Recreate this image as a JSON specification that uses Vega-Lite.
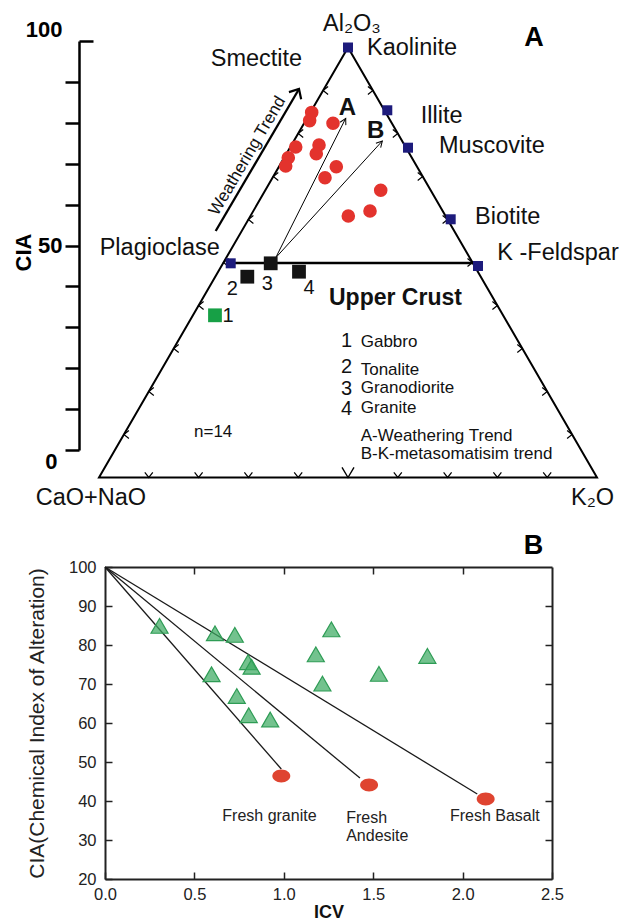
{
  "$schema": "https://vega.github.io/schema/vega-lite/v6.json",
  "background": "white",
  "padding": {"left": 12, "top": 11, "right": 0, "bottom": 0},
  "bounds": "flush",
  "spacing": 117,
  "config": {
    "view": {"stroke": null},
    "font": "Liberation Sans",
    "axis": {"labelFont": "Liberation Sans", "titleFont": "Liberation Sans", "grid": false}
  },
  "datasets": {
    "edge": [{"x": 0, "y": 0, "o": 0}, {"x": 50, "y": 100, "o": 1}, {"x": 100, "y": 0, "o": 2}],
    "join": [{"x": 26.45, "y": 49.9, "o": 0}, {"x": 75.3, "y": 49.9, "o": 1}],
    "trends": [
      {"trend": "A", "x": 35.48, "y": 51.1, "o": 0}, {"trend": "A", "x": 49.54, "y": 83.53, "o": 1},
      {"trend": "B", "x": 35.48, "y": 51.1, "o": 0}, {"trend": "B", "x": 56.89, "y": 78.26, "o": 1}
    ],
    "weather": [{"x": 23.43, "y": 57.33, "o": 0}, {"x": 40.16, "y": 90.35, "o": 1}],
    "eticks": [
      {"edge": "bottom", "x": 10, "y": 0}, {"edge": "bottom", "x": 20, "y": 0}, {"edge": "bottom", "x": 30, "y": 0},
      {"edge": "bottom", "x": 40, "y": 0}, {"edge": "bottom", "x": 50, "y": 0}, {"edge": "bottom", "x": 60, "y": 0},
      {"edge": "bottom", "x": 70, "y": 0}, {"edge": "bottom", "x": 80, "y": 0}, {"edge": "bottom", "x": 90, "y": 0},
      {"edge": "left", "x": 5, "y": 10}, {"edge": "left", "x": 10, "y": 20}, {"edge": "left", "x": 15, "y": 30},
      {"edge": "left", "x": 20, "y": 40}, {"edge": "left", "x": 25, "y": 50}, {"edge": "left", "x": 30, "y": 60},
      {"edge": "left", "x": 35, "y": 70}, {"edge": "left", "x": 40, "y": 80}, {"edge": "left", "x": 45, "y": 90},
      {"edge": "right", "x": 95, "y": 10}, {"edge": "right", "x": 90, "y": 20}, {"edge": "right", "x": 85, "y": 30},
      {"edge": "right", "x": 80, "y": 40}, {"edge": "right", "x": 75, "y": 50}, {"edge": "right", "x": 70, "y": 60},
      {"edge": "right", "x": 65, "y": 70}, {"edge": "right", "x": 60, "y": 80}, {"edge": "right", "x": 55, "y": 90}
    ],
    "minerals": [
      {"mineral": "Kaolinite", "x": 50, "y": 100},
      {"mineral": "Illite", "x": 57.89, "y": 85.4},
      {"mineral": "Muscovite", "x": 62.05, "y": 76.7},
      {"mineral": "Biotite", "x": 70.62, "y": 60.05},
      {"mineral": "K-Feldspar", "x": 76.1, "y": 49.19},
      {"mineral": "Plagioclase", "x": 26.45, "y": 49.81}
    ],
    "rocks": [
      {"rock": "Gabbro", "x": 23.29, "y": 37.72},
      {"rock": "Tonalite", "x": 29.78, "y": 46.7},
      {"rock": "Granodiorite", "x": 34.48, "y": 49.81},
      {"rock": "Granite", "x": 40.16, "y": 47.86}
    ],
    "samples": [
      {"x": 42.71, "y": 84.9}, {"x": 42.3, "y": 83.0}, {"x": 46.99, "y": 82.37}, {"x": 39.5, "y": 76.86},
      {"x": 44.18, "y": 77.33}, {"x": 43.63, "y": 75.3}, {"x": 38.01, "y": 74.37}, {"x": 37.49, "y": 72.44},
      {"x": 47.65, "y": 72.28}, {"x": 45.38, "y": 69.72}, {"x": 56.57, "y": 66.79}, {"x": 50.06, "y": 60.81},
      {"x": 54.42, "y": 61.98}
    ],
    "labels": [
      {"kind": "end", "text": "Al₂O₃", "x": 44.98, "y": 105.47},
      {"kind": "end", "text": "Kaolinite", "x": 53.82, "y": 99.95},
      {"kind": "end", "text": "Smectite", "x": 22.43, "y": 97.26},
      {"kind": "end", "text": "Illite", "x": 64.6, "y": 84.07},
      {"kind": "end", "text": "Muscovite", "x": 68.27, "y": 77.09},
      {"kind": "end", "text": "Biotite", "x": 75.5, "y": 60.58},
      {"kind": "end", "text": "K -Feldspar", "x": 79.98, "y": 52.28},
      {"kind": "end", "text": "Plagioclase", "x": 0.14, "y": 53.44},
      {"kind": "end", "text": "CaO+NaO", "x": -12.71, "y": -4.7},
      {"kind": "end", "text": "K₂O", "x": 94.78, "y": -4.77},
      {"kind": "crust", "text": "Upper Crust", "x": 46.18, "y": 41.81},
      {"kind": "num", "text": "1", "x": 48.6, "y": 31.74},
      {"kind": "num", "text": "2", "x": 48.6, "y": 25.77},
      {"kind": "num", "text": "3", "x": 48.6, "y": 20.51},
      {"kind": "num", "text": "4", "x": 48.6, "y": 15.86},
      {"kind": "name", "text": "Gabbro", "x": 52.55, "y": 31.51},
      {"kind": "name", "text": "Tonalite", "x": 52.55, "y": 24.93},
      {"kind": "name", "text": "Granodiorite", "x": 52.55, "y": 20.74},
      {"kind": "name", "text": "Granite", "x": 52.55, "y": 16.23},
      {"kind": "note", "text": "n=14", "x": 19.08, "y": 10.65},
      {"kind": "note", "text": "A-Weathering Trend", "x": 52.55, "y": 9.65},
      {"kind": "note", "text": "B-K-metasomatisim trend", "x": 52.55, "y": 5.4},
      {"kind": "rocknum", "text": "2", "x": 26.77, "y": 43.77},
      {"kind": "rocknum", "text": "3", "x": 33.8, "y": 45.07},
      {"kind": "rocknum", "text": "4", "x": 42.17, "y": 44.14},
      {"kind": "rocknum", "text": "1", "x": 25.9, "y": 37.56},
      {"kind": "trendlab", "text": "A", "x": 49.86, "y": 86.0},
      {"kind": "trendlab", "text": "B", "x": 55.56, "y": 80.6},
      {"kind": "panel", "text": "A", "x": 87.35, "y": 102.3},
      {"kind": "wt", "text": "Weathering Trend", "x": 29.78, "y": 74.77}
    ],
    "mix": [
      {"rock": "granite", "icv": 0, "cia": 100, "o": 0}, {"rock": "granite", "icv": 0.986, "cia": 48.2, "o": 1},
      {"rock": "andesite", "icv": 0, "cia": 100, "o": 0}, {"rock": "andesite", "icv": 1.426, "cia": 45.87, "o": 1},
      {"rock": "basalt", "icv": 0, "cia": 100, "o": 0}, {"rock": "basalt", "icv": 2.082, "cia": 41.8, "o": 1}
    ],
    "fresh": [
      {"rock": "Fresh granite", "icv": 0.986, "cia": 46.4},
      {"rock": "Fresh Andesite", "icv": 1.477, "cia": 44.1},
      {"rock": "Fresh Basalt", "icv": 2.129, "cia": 40.5}
    ],
    "sediments": [
      {"icv": 0.305, "cia": 84.9}, {"icv": 0.615, "cia": 83.0}, {"icv": 0.726, "cia": 82.6},
      {"icv": 0.8, "cia": 75.6}, {"icv": 0.82, "cia": 74.4}, {"icv": 0.596, "cia": 72.5},
      {"icv": 0.737, "cia": 66.9}, {"icv": 0.804, "cia": 62.0}, {"icv": 0.924, "cia": 60.9},
      {"icv": 1.266, "cia": 84.0}, {"icv": 1.179, "cia": 77.6}, {"icv": 1.216, "cia": 70.1},
      {"icv": 1.532, "cia": 72.6}, {"icv": 1.803, "cia": 77.2}
    ],
    "freshlabels": [
      {"text": "Fresh granite", "icv": 0.656, "cia": 36.26},
      {"text": "Fresh\nAndesite", "icv": 1.349, "cia": 35.69},
      {"text": "Fresh Basalt", "icv": 1.929, "cia": 36.26}
    ],
    "panelB": [{"text": "B", "icv": 2.397, "cia": 105.4}]
  },
  "vconcat": [
    {
      "width": 447,
      "height": 409,
      "layer": [
        {
          "encoding": {
            "x": {"field": "x", "type": "quantitative", "scale": {"domain": [1.2048, 90.964], "nice": false, "zero": false}, "axis": null},
            "y": {"field": "y", "type": "quantitative", "scale": {"domain": [6.395, 101.512], "nice": false, "zero": false}, "axis": null}
          },
          "layer": [
            {"data": {"name": "edge"}, "mark": {"type": "line", "interpolate": "linear-closed", "stroke": "black", "strokeWidth": 2, "strokeJoin": "miter"}, "encoding": {"order": {"field": "o", "type": "quantitative"}}},
            {"data": {"name": "join"}, "mark": {"type": "line", "stroke": "black", "strokeWidth": 2.6}, "encoding": {"order": {"field": "o", "type": "quantitative"}}},
            {"data": {"name": "trends"}, "mark": {"type": "line", "stroke": "black", "strokeWidth": 1}, "encoding": {"detail": {"field": "trend"}, "order": {"field": "o", "type": "quantitative"}}},
            {"data": {"name": "trends"}, "transform": [{"filter": "datum.o == 1 && datum.trend == 'A'"}], "mark": {"type": "point", "shape": "M-0.8,1.5L0,0L0.8,1.5", "filled": false, "stroke": "black", "strokeWidth": 1, "opacity": 1, "size": 64, "angle": 27}},
            {"data": {"name": "trends"}, "transform": [{"filter": "datum.o == 1 && datum.trend == 'B'"}], "mark": {"type": "point", "shape": "M-0.8,1.5L0,0L0.8,1.5", "filled": false, "stroke": "black", "strokeWidth": 1, "opacity": 1, "size": 64, "angle": 42}},
            {"data": {"name": "weather"}, "mark": {"type": "line", "stroke": "black", "strokeWidth": 2.3}, "encoding": {"order": {"field": "o", "type": "quantitative"}}},
            {"data": {"name": "weather"}, "transform": [{"filter": "datum.o == 1"}], "mark": {"type": "point", "shape": "M-1,1.1L0,0L1,1.1", "filled": false, "stroke": "black", "strokeWidth": 2.2, "opacity": 1, "size": 200, "angle": 30.5}},
            {"data": {"name": "eticks"}, "transform": [{"filter": "datum.edge == 'bottom' && datum.x != 50"}], "mark": {"type": "point", "shape": "M-1,1.25L0,0L1,1.25", "filled": false, "stroke": "black", "strokeWidth": 1.2, "opacity": 1, "size": 64, "angle": 180}},
            {"data": {"name": "eticks"}, "transform": [{"filter": "datum.edge == 'bottom' && datum.x == 50"}], "mark": {"type": "point", "shape": "M-1,1.67L0,0L1,1.67", "filled": false, "stroke": "black", "strokeWidth": 1.4, "opacity": 1, "size": 144, "angle": 180}},
            {"data": {"name": "eticks"}, "transform": [{"filter": "datum.edge == 'left'"}], "mark": {"type": "point", "shape": "M-1,1.25L0,0L1,1.25", "filled": false, "stroke": "black", "strokeWidth": 1.2, "opacity": 1, "size": 64, "angle": 270}},
            {"data": {"name": "eticks"}, "transform": [{"filter": "datum.edge == 'right'"}], "mark": {"type": "point", "shape": "M-1,1.25L0,0L1,1.25", "filled": false, "stroke": "black", "strokeWidth": 1.2, "opacity": 1, "size": 64, "angle": 90}},
            {"data": {"name": "samples"}, "mark": {"type": "circle", "color": "#e3332d", "size": 185, "opacity": 1}},
            {"data": {"name": "minerals"}, "mark": {"type": "square", "color": "#1d1b7c", "size": 100, "opacity": 1}},
            {"data": {"name": "rocks"}, "mark": {"type": "square", "size": 190, "opacity": 1}, "encoding": {"color": {"field": "rock", "type": "nominal", "scale": {"domain": ["Gabbro", "Tonalite", "Granodiorite", "Granite"], "range": ["#17a046", "#141414", "#141414", "#141414"]}, "legend": null}}},
            {"data": {"name": "labels"}, "transform": [{"filter": "datum.kind == 'end'"}], "mark": {"type": "text", "align": "left", "baseline": "middle", "fontSize": 23.5, "color": "#111"}, "encoding": {"text": {"field": "text"}}},
            {"data": {"name": "labels"}, "transform": [{"filter": "datum.kind == 'crust'"}], "mark": {"type": "text", "align": "left", "baseline": "middle", "fontSize": 23, "fontWeight": "bold", "color": "#111"}, "encoding": {"text": {"field": "text"}}},
            {"data": {"name": "labels"}, "transform": [{"filter": "datum.kind == 'num'"}], "mark": {"type": "text", "align": "left", "baseline": "middle", "fontSize": 20, "color": "#111"}, "encoding": {"text": {"field": "text"}}},
            {"data": {"name": "labels"}, "transform": [{"filter": "datum.kind == 'name'"}], "mark": {"type": "text", "align": "left", "baseline": "middle", "fontSize": 17, "color": "#111"}, "encoding": {"text": {"field": "text"}}},
            {"data": {"name": "labels"}, "transform": [{"filter": "datum.kind == 'note'"}], "mark": {"type": "text", "align": "left", "baseline": "middle", "fontSize": 17, "color": "#111"}, "encoding": {"text": {"field": "text"}}},
            {"data": {"name": "labels"}, "transform": [{"filter": "datum.kind == 'rocknum'"}], "mark": {"type": "text", "align": "center", "baseline": "middle", "fontSize": 20, "color": "#111"}, "encoding": {"text": {"field": "text"}}},
            {"data": {"name": "labels"}, "transform": [{"filter": "datum.kind == 'trendlab'"}], "mark": {"type": "text", "align": "center", "baseline": "middle", "fontSize": 24, "fontWeight": "bold", "color": "#111"}, "encoding": {"text": {"field": "text"}}},
            {"data": {"name": "labels"}, "transform": [{"filter": "datum.kind == 'panel'"}], "mark": {"type": "text", "align": "center", "baseline": "middle", "fontSize": 27, "fontWeight": "bold", "color": "black"}, "encoding": {"text": {"field": "text"}}},
            {"data": {"name": "labels"}, "transform": [{"filter": "datum.kind == 'wt'"}], "mark": {"type": "text", "align": "center", "baseline": "middle", "fontSize": 17, "angle": 300.5, "color": "#111"}, "encoding": {"text": {"field": "text"}}}
          ]
        },
        {
          "data": {"values": [{"cia": 0}, {"cia": 100}]},
          "mark": {"type": "point", "opacity": 0},
          "encoding": {
            "y": {
              "field": "cia", "type": "quantitative",
              "scale": {"domain": [0, 100], "nice": false, "zero": false},
              "axis": {
                "orient": "left", "offset": 26,
                "values": [0, 10, 20, 30, 40, 50, 60, 70, 80, 90, 100],
                "labelExpr": "datum.value == 0 || datum.value == 50 || datum.value == 100 ? datum.label : ''",
                "labelFontSize": 22, "labelFontWeight": "bold", "labelColor": "black",
                "labelPadding": {"condition": [{"test": "datum.value == 100", "value": 31}, {"test": "datum.value == 0", "value": 8}], "value": 3},
                "labelOffset": {"condition": [{"test": "datum.value == 100", "value": -12}, {"test": "datum.value == 0", "value": 11}], "value": 0},
                "labelOverlap": false, "labelFlush": false, "labelBound": false,
                "tickSize": {"condition": {"test": "datum.value == 100", "value": -14}, "value": 14},
                "tickWidth": 2.5, "tickColor": "black",
                "domainWidth": 2.5, "domainColor": "black",
                "title": "CIA", "titleFontSize": 22, "titleFontWeight": "bold", "titleColor": "black",
                "titleX": -44, "titleY": 211
              }
            }
          }
        }
      ],
      "resolve": {"scale": {"y": "independent"}}
    },
    {
      "width": 447,
      "height": 312,
      "layer": [
        {
          "encoding": {
            "x": {
              "field": "icv", "type": "quantitative",
              "scale": {"domain": [0, 2.5], "nice": false, "zero": false},
              "axis": {
                "orient": "bottom", "values": [0, 0.5, 1, 1.5, 2, 2.5], "format": ".1f",
                "title": "ICV", "titleFontSize": 18, "titleFontWeight": "bold", "titleColor": "#111", "titlePadding": 1,
                "labelFontSize": 16.5, "labelColor": "#222", "labelPadding": 14, "labelFlush": false, "labelOverlap": false,
                "tickSize": -7, "tickWidth": 1.5, "tickColor": "#222", "domainColor": "#222", "domainWidth": 2
              }
            },
            "y": {
              "field": "cia", "type": "quantitative",
              "scale": {"domain": [20, 100], "nice": false, "zero": false},
              "axis": {
                "orient": "left", "values": [20, 30, 40, 50, 60, 70, 80, 90, 100],
                "title": "CIA(Chemical Index of Alteration)", "titleFontSize": 21, "titleFontWeight": "normal", "titleColor": "#222", "titlePadding": 21,
                "labelFontSize": 16.5, "labelColor": "#222", "labelPadding": 16, "labelFlush": false, "labelOverlap": false,
                "tickSize": -7, "tickWidth": 1.5, "tickColor": "#222", "domainColor": "#222", "domainWidth": 2
              }
            }
          },
          "layer": [
            {"data": {"name": "mix"}, "mark": {"type": "line", "stroke": "#1a1a1a", "strokeWidth": 1.3}, "encoding": {"detail": {"field": "rock"}, "order": {"field": "o", "type": "quantitative"}}},
            {"data": {"name": "sediments"}, "mark": {"type": "point", "shape": "triangle-up", "filled": true, "color": "#3dab63", "fillOpacity": 0.72, "stroke": "#2e9c55", "strokeOpacity": 1, "strokeWidth": 1.2, "size": 290}},
            {"data": {"name": "freshlabels"}, "mark": {"type": "text", "align": "left", "baseline": "middle", "fontSize": 16, "lineBreak": "\n", "lineHeight": 18, "color": "#222"}, "encoding": {"text": {"field": "text"}}},
            {"data": {"name": "panelB"}, "mark": {"type": "text", "align": "center", "baseline": "middle", "fontSize": 27, "fontWeight": "bold", "color": "black"}, "encoding": {"text": {"field": "text"}}}
          ]
        },
        {
          "data": {"name": "fresh"},
          "mark": {"type": "point", "shape": "M-1,0C-1,-0.398,-0.552,-0.72,0,-0.72C0.552,-0.72,1,-0.398,1,0C1,0.398,0.552,0.72,0,0.72C-0.552,0.72,-1,0.398,-1,0Z", "filled": true, "color": "#df4430", "size": 324, "opacity": 1},
          "encoding": {
            "x": {
              "field": "icv", "type": "quantitative",
              "scale": {"domain": [0, 2.5], "nice": false, "zero": false},
              "axis": {"orient": "top", "values": [0.5, 1, 1.5, 2], "labels": false, "title": null, "tickSize": -7, "tickWidth": 1.5, "tickColor": "#222", "domainColor": "#222", "domainWidth": 2}
            },
            "y": {
              "field": "cia", "type": "quantitative",
              "scale": {"domain": [20, 100], "nice": false, "zero": false},
              "axis": {"orient": "right", "values": [30, 40, 50, 60, 70, 80, 90], "labels": false, "title": null, "tickSize": -7, "tickWidth": 1.5, "tickColor": "#222", "domainColor": "#222", "domainWidth": 2}
            }
          }
        }
      ],
      "resolve": {"axis": {"x": "independent", "y": "independent"}}
    }
  ]
}
